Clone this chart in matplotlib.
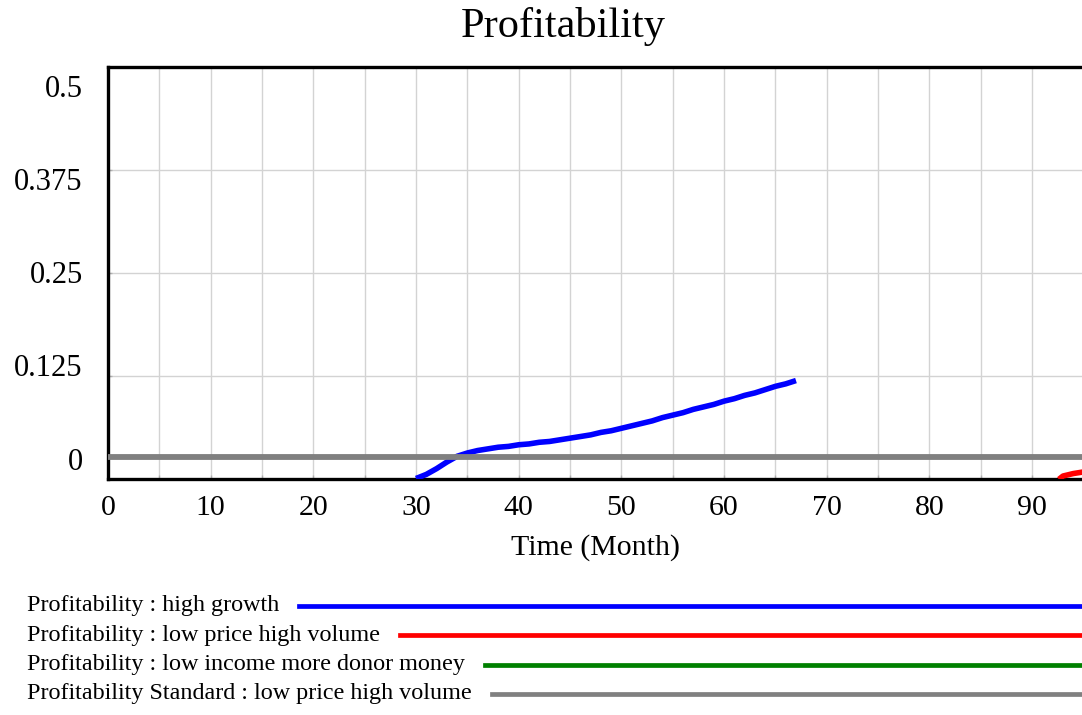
import matplotlib
matplotlib.use("Agg")
import matplotlib.pyplot as plt
from matplotlib.lines import Line2D

plt.rcParams["font.family"] = ["Liberation Serif", "DejaVu Serif"]

# data
HG_TIME = [30, 31, 32, 33, 34, 35, 36, 37, 38, 39, 40, 41, 42, 43, 44, 45, 46, 47, 48,
           49, 50, 51, 52, 53, 54, 55, 56, 57, 58, 59, 60, 61, 62, 63, 64, 65, 66, 67]
HG_VALUES = [0.000, 0.005, 0.012, 0.020, 0.027, 0.031, 0.034, 0.036, 0.038, 0.039,
             0.041, 0.042, 0.044, 0.045, 0.047, 0.049, 0.051, 0.053, 0.056, 0.058,
             0.061, 0.064, 0.067, 0.070, 0.074, 0.077, 0.080, 0.084, 0.087, 0.090,
             0.094, 0.097, 0.101, 0.104, 0.108, 0.112, 0.115, 0.119]
LPHV_TIME = [92.6, 93.0, 94.0, 95.0]
LPHV_VALUES = [-0.001, 0.003, 0.006, 0.008]
LIMD_TIME = []
LIMD_VALUES = []
STD_TIME = [0, 95]
STD_VALUES = [0.026, 0.026]

SERIES_LABELS = [
    "Profitability : high growth",
    "Profitability : low price high volume",
    "Profitability : low income more donor money",
    "Profitability Standard : low price high volume",
]
SERIES_COLORS = ["#0000ff", "#ff0000", "#008000", "#808080"]

X_TICKS = [0, 10, 20, 30, 40, 50, 60, 70, 80, 90]
Y_TICKS = [0, 0.125, 0.25, 0.375, 0.5]
Y_TICK_LABELS = ["0", "0.125", "0.25", "0.375", "0.5"]

W, H = 1082, 715
fig = plt.figure(figsize=(W / 100, H / 100), dpi=100)
ax = fig.add_axes([108 / W, 236.5 / H, 975.5 / W, 411.5 / H])

ax.plot(HG_TIME, HG_VALUES, color=SERIES_COLORS[0], lw=4.0, solid_capstyle="butt", zorder=3)
ax.plot(LPHV_TIME, LPHV_VALUES, color=SERIES_COLORS[1], lw=4.0, solid_capstyle="butt", zorder=3)
ax.plot(LIMD_TIME, LIMD_VALUES, color=SERIES_COLORS[2], lw=4.0, zorder=3)
ax.plot(STD_TIME, STD_VALUES, color=SERIES_COLORS[3], lw=4.2, solid_capstyle="butt", zorder=4)

ax.set_xlim(0, 95)
ax.set_ylim(0, 0.5)
ax.set_xticks(X_TICKS)
ax.set_xticks(range(5, 95, 10), minor=True)
ax.set_xticklabels([str(t) for t in X_TICKS], fontsize=21.5)
ax.set_yticks(Y_TICKS)
ax.set_yticklabels([])
ax.grid(True, which="both", color="#d3d3d3", lw=1.0)
ax.tick_params(axis="both", which="both", direction="in", length=3, color="#b0b0b0", width=1)
ax.tick_params(axis="x", pad=12)
ax.set_axisbelow(True)

# vensim style: y labels spread inside the axis range
for v, lab in zip(Y_TICKS, Y_TICK_LABELS):
    ax.text(-0.026, 0.040 + 0.905 * v / 0.5, lab, transform=ax.transAxes,
            ha="right", va="center", fontsize=22)

for side in ["left", "bottom", "top"]:
    ax.spines[side].set_linewidth(2.4)
    ax.spines[side].set_color("black")
ax.spines["right"].set_visible(False)

ax.set_xlabel("Time (Month)", fontsize=21.5, labelpad=9)
fig.text(563.5 / W, 1 - 27 / H, "Profitability", ha="center", va="center", fontsize=30.5)

# legend block below the chart
fig.canvas.draw()
renderer = fig.canvas.get_renderer()
for i, (lab, col) in enumerate(zip(SERIES_LABELS, SERIES_COLORS)):
    y = 1 - (606 + 29.3 * i) / H
    t = fig.text(27 / W, y, lab, ha="left", va="center", fontsize=17.4)
    bb = t.get_window_extent(renderer)
    x0 = (bb.x1 + 20) / W
    fig.add_artist(Line2D([x0, 1.02], [y, y], color=col, lw=3.4, transform=fig.transFigure))

plt.savefig("out.png", dpi=100)
plt.close()
